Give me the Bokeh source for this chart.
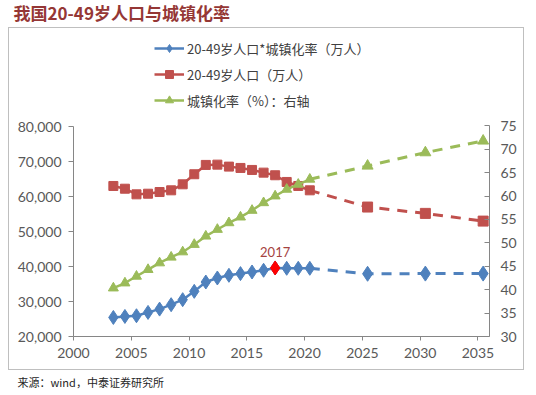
from bokeh.plotting import figure
from bokeh.layouts import column, row
from bokeh.models import (Range1d, LinearAxis, Label, Legend, LegendItem,
                          NumeralTickFormatter, FixedTicker, Spacer, InlineStyleSheet)
from bokeh.embed import file_html
from bokeh.resources import INLINE
import numpy as np

# ---------------- data ----------------
years_hist = [2003, 2004, 2005, 2006, 2007, 2008, 2009, 2010, 2011, 2012,
              2013, 2014, 2015, 2016, 2017, 2018, 2019, 2020]
pop_hist = [63070, 62290, 60680, 60860, 61340, 61830, 63550, 66430, 69100, 69180,
            68610, 68230, 67660, 66890, 66140, 64220, 63070, 61830]
urban_hist = [40.35, 41.42, 42.86, 44.29, 45.71, 46.93, 48.06, 49.65, 51.43, 52.86,
              54.28, 55.50, 56.93, 58.56, 60.00, 61.43, 62.50, 63.58]
prod_hist = [25450, 25740, 25940, 26890, 27840, 29100, 30540, 32920, 35590, 36740,
             37510, 38000, 38460, 38950, 39610, 39520, 39520, 39520]

years_fut = [2020, 2025, 2030, 2035]
pop_fut = [61830, 57040, 55230, 53020]
urban_fut = [63.58, 66.43, 69.28, 71.78]
prod_fut = [39520, 37950, 38000, 38000]

highlight_year = 2017
highlight_value = 39610

x_ticks = [2000, 2005, 2010, 2015, 2020, 2025, 2030, 2035]
left_ticks = [20000, 30000, 40000, 50000, 60000, 70000, 80000]
right_ticks = [30, 35, 40, 45, 50, 55, 60, 65, 70, 75]

labels = ["20-49岁人口*城镇化率（万人）", "20-49岁人口（万人）", "城镇化率（%）：右轴"]
title_text = "我国20-49岁人口与城镇化率"
source_text = "来源：wind，中泰证券研究所"

# ---------------- style ----------------
BLUE = "#4F81BD"
RED = "#C0504D"
GREEN = "#9BBB59"
AXIS = "#868686"
TICK_TXT = "#595959"
XOFF = 0.45  # points sit slightly right of the year ticks in the original
NUM_FONT = "Lato"
CJK_FONT = "Noto Sans CJK SC"


def text_strip(w, h, txt, x, y, color, size, style="normal"):
    f = figure(width=w, height=h, output_backend="svg", toolbar_location=None,
               x_axis_type=None, y_axis_type=None, x_range=Range1d(0, 1), y_range=Range1d(0, 1),
               min_border=0, min_border_left=0, min_border_right=0,
               min_border_top=0, min_border_bottom=0)
    f.outline_line_color = None
    f.grid.visible = False
    f.add_layout(Label(x=x, y=y, x_units="screen", y_units="screen", text=txt,
                       text_baseline="middle", text_color=color, text_font=CJK_FONT,
                       text_font_size=size, text_font_style=style))
    return f


title_fig = text_strip(536, 27, title_text, 13, 15, "#953735", "17px", "bold")
source_fig = text_strip(536, 24, source_text, 17, 13, "#262626", "11px")

xh = np.array(years_hist) + XOFF
xf = np.array(years_fut) + XOFF

box_css = InlineStyleSheet(css=":host { border: 1px solid #BFBFBF; box-sizing: border-box; }")

p = figure(width=516, height=343, output_backend="svg", toolbar_location=None,
           x_range=Range1d(2000, 2036), y_range=Range1d(20000, 106130),
           min_border_left=64, min_border_right=36, min_border_top=7, min_border_bottom=35,
           stylesheets=[box_css])
p.extra_y_ranges = {"right": Range1d(30, 94.29)}
p.outline_line_color = None
p.background_fill_color = "white"
p.border_fill_color = None
p.xgrid.visible = False
p.ygrid.visible = False

# axes
p.xaxis.ticker = FixedTicker(ticks=x_ticks)
p.yaxis.ticker = FixedTicker(ticks=left_ticks)
p.yaxis.formatter = NumeralTickFormatter(format="0,0")
p.yaxis.bounds = (20000, 80000)
ra = LinearAxis(y_range_name="right", ticker=FixedTicker(ticks=right_ticks), bounds=(30, 75))
p.add_layout(ra, "right")
for ax in [p.xaxis[0], p.yaxis[0], ra]:
    ax.axis_line_color = AXIS
    ax.major_tick_line_color = AXIS
    ax.minor_tick_line_color = None
    ax.major_label_text_color = TICK_TXT
    ax.major_label_text_font = NUM_FONT
    ax.major_label_text_font_size = "14px"
p.xaxis.major_tick_out = 4
p.xaxis.major_tick_in = 0
p.yaxis[0].major_tick_out = 5
p.yaxis[0].major_tick_in = 0
ra.major_tick_in = 5
ra.major_tick_out = 0
p.xaxis.major_label_standoff = 7
p.yaxis[0].major_label_standoff = 7
ra.major_label_standoff = 11

# blue series
b_line = p.line(xh, prod_hist, color=BLUE, line_width=2.5)
b_fut = p.line(xf, prod_fut, color=BLUE, line_width=3, line_dash="10 8")
b_pts = p.scatter(xh, prod_hist, marker="diamond", size=14, color=BLUE)
b_fpts = p.scatter(xf[1:], prod_fut[1:], marker="diamond", size=15, color=BLUE)
hl = p.scatter([highlight_year + XOFF], [highlight_value], marker="diamond", size=14, color="#FF0000")

# red series
r_line = p.line(xh, pop_hist, color=RED, line_width=2.5)
r_fut = p.line(xf, pop_fut, color=RED, line_width=3, line_dash="10 8")
r_pts = p.scatter(xh, pop_hist, marker="square", size=9, color=RED)
r_fpts = p.scatter(xf[1:], pop_fut[1:], marker="square", size=10, color=RED)

# green series (right axis)
g_line = p.line(xh, urban_hist, color=GREEN, line_width=2.5, y_range_name="right")
g_fut = p.line(xf, urban_fut, color=GREEN, line_width=3, line_dash="10 8", y_range_name="right")
g_pts = p.scatter(xh, urban_hist, marker="triangle", size=10, color=GREEN, y_range_name="right")
g_fpts = p.scatter(xf[1:], urban_fut[1:], marker="triangle", size=11, color=GREEN, y_range_name="right")

# 2017 label
p.add_layout(Label(x=highlight_year + XOFF, y=highlight_value, y_offset=11, text=str(highlight_year),
                   text_align="center", text_baseline="bottom", text_color="#A5433F",
                   text_font=NUM_FONT, text_font_size="13px"))

# legend
legend = Legend(items=[LegendItem(label=labels[0], renderers=[b_line, b_pts]),
                       LegendItem(label=labels[1], renderers=[r_line, r_pts]),
                       LegendItem(label=labels[2], renderers=[g_line, g_pts])],
                location=(81, 226), orientation="vertical",
                glyph_width=30, glyph_height=20, spacing=6, padding=0, margin=0,
                label_standoff=3, label_text_font=CJK_FONT, label_text_font_size="13px",
                label_text_color="#404040", border_line_color=None, background_fill_alpha=0)
p.add_layout(legend, "center")

layout = column(title_fig, row(Spacer(width=8, height=343), p), source_fig)

open("out.html", "w").write(file_html(layout, INLINE))
